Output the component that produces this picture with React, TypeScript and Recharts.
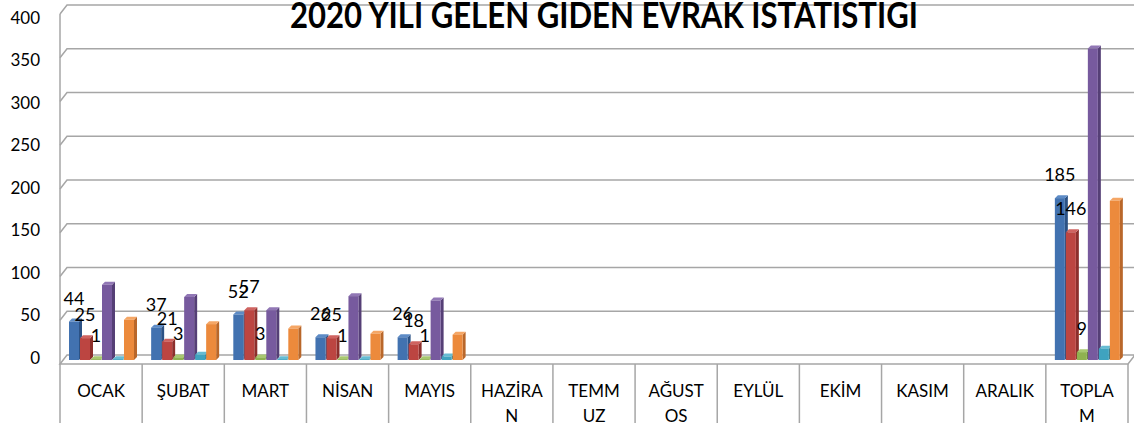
import { BarChart, Bar, XAxis, YAxis, CartesianGrid, LabelList } from 'recharts';

const months = ['OCAK', 'ŞUBAT', 'MART', 'NİSAN', 'MAYIS', 'HAZİRA\nN', 'TEMM\nUZ', 'AĞUST\nOS', 'EYLÜL', 'EKİM', 'KASIM', 'ARALIK', 'TOPLA\nM'];
const blueValues = [44, 37, 52, 26, 26, null, null, null, null, null, null, null, 185];
const redValues = [25, 21, 57, 25, 18, null, null, null, null, null, null, null, 146];
const greenValues = [1, 3, 3, 1, 1, null, null, null, null, null, null, null, 9];
const purpleValues = [86, 72, 57, 73, 68, null, null, null, null, null, null, null, 356];
const cyanValues = [1, 6, 1, 1, 4, null, null, null, null, null, null, null, 13];
const orangeValues = [46, 41, 36, 30, 29, null, null, null, null, null, null, null, 182];
const yTicks = [0, 50, 100, 150, 200, 250, 300, 350, 400];

const data = months.map((month, i) => ({
  month,
  s1: blueValues[i],
  s2: redValues[i],
  s3: greenValues[i],
  s4: purpleValues[i],
  s5: cyanValues[i],
  s6: orangeValues[i],
}));

const series = [
  { key: 's1', front: '#4272b0', side: '#2c5285', top: '#5d8bc6', label: true },
  { key: 's2', front: '#bc4541', side: '#8c2f2c', top: '#cf6360', label: true },
  { key: 's3', front: '#8fb250', side: '#6a8a36', top: '#a8c870', label: true },
  { key: 's4', front: '#775a9e', side: '#553f76', top: '#9177b5', label: false },
  { key: 's5', front: '#3fa3bf', side: '#2a7a90', top: '#66bcd3', label: false },
  { key: 's6', front: '#ec8a3c', side: '#b9672a', top: '#f5a665', label: false },
];

const FONT = 'Lato, "Open Sans", sans-serif';
const GRID = '#a6a6a6';
const BAND = (1128 - 60) / 13;

const make3DBar = (front: string, side: string, top: string) => (props: any) => {
  const { x, y, width, height } = props;
  if (height == null || isNaN(y) || isNaN(height)) return null;
  const d = 3;
  return (
    <g>
      <polygon
        points={`${x + width},${y} ${x + width + d},${y - d} ${x + width + d},${y + height - d} ${x + width},${y + height}`}
        fill={side}
      />
      <polygon points={`${x},${y} ${x + d},${y - d} ${x + width + d},${y - d} ${x + width},${y}`} fill={top} />
      <rect x={x} y={y} width={width} height={height} fill={front} />
    </g>
  );
};

const valueLabel = (props: any) => {
  const { x, y, width, value } = props;
  if (value == null) return null;
  return (
    <text
      x={x + width / 2}
      y={y - 24}
      textAnchor="middle"
      dominantBaseline="central"
      fontSize={18}
      fontFamily={FONT}
      fill="#000"
    >
      {value}
    </text>
  );
};

const gridLine = (props: any) => {
  const { x1, y1, x2 } = props;
  if (y1 > 350) {
    // floor of the 3D plot
    return (
      <g key={props.key}>
        <polygon
          points={`${x1},${y1 + 4} ${x1 + 7},${y1 - 5} ${x2 + 7},${y1 - 5} ${x2},${y1 + 4}`}
          fill="#fff"
          stroke={GRID}
          strokeWidth={1.5}
        />
      </g>
    );
  }
  return (
    <polyline
      key={props.key}
      points={`${x1},${y1 + 4} ${x1 + 7},${y1 - 5} ${x2 + 7},${y1 - 5}`}
      fill="none"
      stroke={GRID}
      strokeWidth={1.5}
    />
  );
};

const YTick = (props: any) => {
  const { y, payload } = props;
  return (
    <text
      x={40}
      y={17 + (y - 10) * (340 / 350)}
      textAnchor="end"
      dominantBaseline="central"
      fontSize={17}
      fontFamily={FONT}
      fill="#000"
    >
      {payload.value}
    </text>
  );
};

const XTick = (props: any) => {
  const { x, payload, index } = props;
  const lines = String(payload.value).split('\n');
  const left = x - BAND / 2;
  return (
    <g>
      <line x1={left} x2={left} y1={index === 0 ? 14 : 364} y2={423} stroke={GRID} strokeWidth={1.5} />
      {index === months.length - 1 && (
        <line x1={x + BAND / 2} x2={x + BAND / 2} y1={364} y2={423} stroke={GRID} strokeWidth={1.5} />
      )}
      {lines.map((line, i) => (
        <text
          key={i}
          x={x}
          y={390 + i * 25}
          textAnchor="middle"
          dominantBaseline="central"
          fontSize={17}
          fontFamily={FONT}
          fill="#000"
        >
          {line}
        </text>
      ))}
    </g>
  );
};

export default function App() {
  return (
    <div style={{ position: 'absolute', left: 0, top: 0, width: 1134, height: 423, background: '#fff', overflow: 'hidden' }}>
      <BarChart
        width={1134}
        height={423}
        data={data}
        margin={{ top: 10, right: 6, bottom: 0, left: 0 }}
        barSize={10}
        barGap={1}
      >
        <CartesianGrid horizontal={gridLine} vertical={false} />
        <XAxis dataKey="month" height={63} axisLine={false} tickLine={false} interval={0} tick={XTick} />
        <YAxis
          width={60}
          domain={[0, 400]}
          ticks={yTicks}
          axisLine={false}
          tickLine={false}
          tick={YTick}
        />
        {series.map((s) => (
          <Bar key={s.key} dataKey={s.key} isAnimationActive={false} shape={make3DBar(s.front, s.side, s.top)}>
            {s.label && <LabelList dataKey={s.key} content={valueLabel} />}
          </Bar>
        ))}
      </BarChart>
      <svg width={1134} height={40} style={{ position: 'absolute', left: 0, top: 0, pointerEvents: 'none' }}>
        <text
          x={604}
          y={28}
          textAnchor="middle"
          fontSize={37}
          fontWeight="bold"
          fontFamily={FONT}
          textLength={628}
          lengthAdjust="spacingAndGlyphs"
          fill="#000"
        >
          2020 YILI GELEN GIDEN EVRAK ISTATISTIGI
        </text>
      </svg>
    </div>
  );
}
